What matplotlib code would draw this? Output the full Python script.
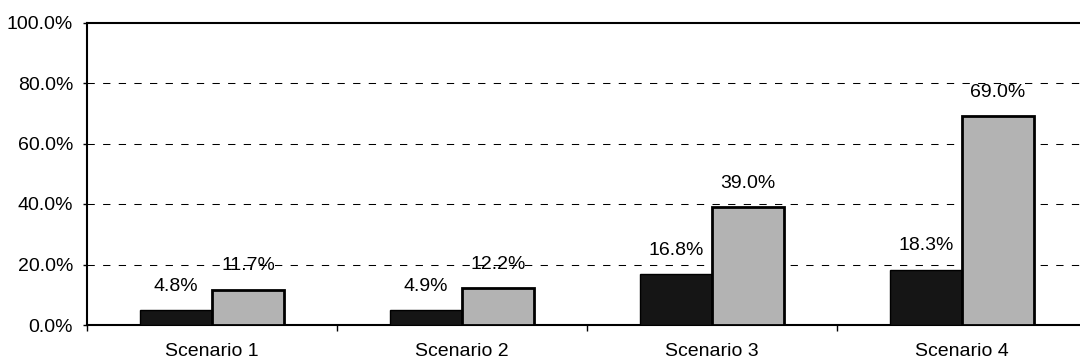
import matplotlib
matplotlib.use("Agg")
import matplotlib.pyplot as plt
import numpy as np
from matplotlib.ticker import FixedLocator, PercentFormatter

plt.rcParams['font.family'] = ['Liberation Sans', 'DejaVu Sans']

# Scenario results (percent)
scenarios = ["Scenario 1", "Scenario 2", "Scenario 3", "Scenario 4"]
series_dark = [4.8, 4.9, 16.8, 18.3]
series_light = [11.7, 12.2, 39.0, 69.0]
y_ticks = [0, 20, 40, 60, 80, 100]

FS = 14

fig = plt.figure(figsize=(10.8, 3.64), dpi=100)
ax = fig.add_axes([87 / 1080, 39 / 364, 1000 / 1080, 302.5 / 364])

x = np.arange(len(scenarios))
width = 0.288

bars_dark = ax.bar(x - width / 2, series_dark, width, color="#151515",
                   edgecolor="#000000", linewidth=1.0, zorder=3)
bars_light = ax.bar(x + width / 2, series_light, width, color="#b3b3b3",
                    edgecolor="#000000", linewidth=2.0, zorder=3)

for bars, vals in ((bars_dark, series_dark), (bars_light, series_light)):
    for rect, v in zip(bars, vals):
        ax.annotate(f"{v:.1f}%", (rect.get_x() + rect.get_width() / 2, v),
                    xytext=(0, 14), textcoords="offset points",
                    ha="center", va="baseline", fontsize=FS, zorder=4)

ax.set_xlim(-0.5, len(scenarios) - 0.5)
ax.set_ylim(0, 100)

# y axis
ax.yaxis.set_major_locator(FixedLocator(y_ticks))
ax.yaxis.set_major_formatter(PercentFormatter(decimals=1))
ax.tick_params(axis="y", direction="out", length=3, width=1, pad=7, labelsize=FS)

# x axis: labels at category centres, tick marks at category boundaries
ax.set_xticks(x)
ax.set_xticklabels(scenarios, fontsize=FS)
ax.tick_params(axis="x", which="major", length=0, pad=13)
ax.set_xticks(np.arange(len(scenarios) + 1) - 0.5, minor=True)
ax.tick_params(axis="x", which="minor", direction="out", length=4, width=1)

# dashed horizontal gridlines
for yv in y_ticks[1:-1]:
    ax.axhline(yv, color="#000000", linewidth=0.75, linestyle=(0, (7, 8)), zorder=1)

for side in ("left", "bottom", "top"):
    ax.spines[side].set_linewidth(1.5)
    ax.spines[side].set_color("#000000")
ax.spines["right"].set_visible(False)

fig.savefig("out.png", dpi=100)
